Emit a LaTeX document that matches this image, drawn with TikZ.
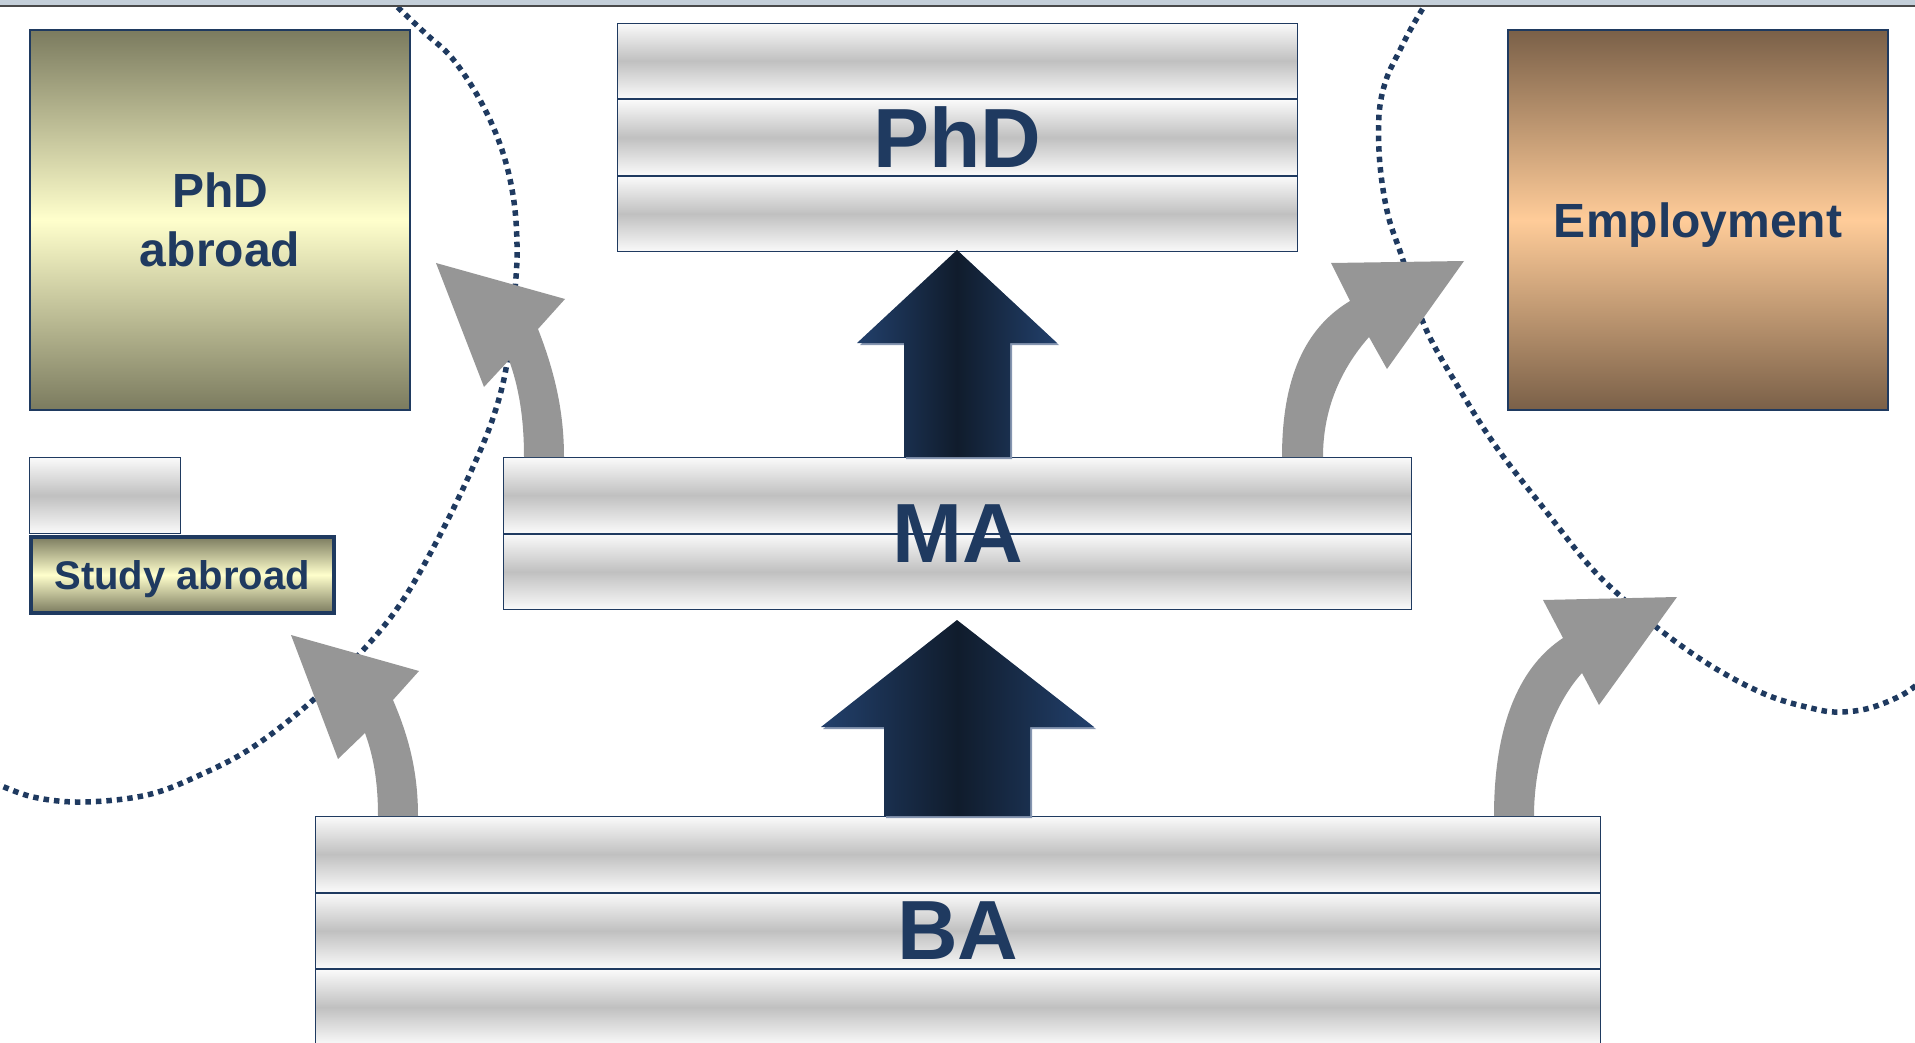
\documentclass[tikz,border=0pt]{standalone}
\usepackage{fontspec}
\setmainfont{Liberation Sans}
\usepackage{xcolor}
\usetikzlibrary{positioning}

\definecolor{textblue}{HTML}{1F3A60}
\definecolor{stripewhite}{HTML}{FAFAFA}
\definecolor{stripegray}{HTML}{C0C0C0}
\definecolor{olivedark}{HTML}{7B7B5F}
\definecolor{olivelight}{HTML}{FFFFCC}
\definecolor{browndark}{HTML}{7A6048}
\definecolor{brownlight}{HTML}{FFCC99}
\definecolor{arrowedge}{HTML}{22406C}
\definecolor{arrowcore}{HTML}{101C2C}
\definecolor{arrowshade}{HTML}{8595B0}
\definecolor{curvegray}{HTML}{969696}
\definecolor{topband}{HTML}{C4CFD9}
\definecolor{topline}{HTML}{4A4A4A}

\begin{document}
\begin{tikzpicture}[x=1pt, y=-1pt,
    stripebox/.style={draw=textblue, line width=1pt, top color=stripewhite,
        bottom color=stripewhite, middle color=stripegray,
        minimum height=75.5pt, inner sep=0pt, anchor=north west},
    bigtext/.style={text=textblue, font=\fontsize{84}{90}\selectfont\bfseries},
    olivebox/.style={draw=textblue, top color=olivedark, bottom color=olivedark,
        middle color=olivelight, inner sep=0pt, anchor=north west,
        text=textblue, align=center},
    dotline/.style={draw=textblue, line width=5.5pt, dash pattern=on 5.5pt off 5pt},
    grayarrow/.style={fill=curvegray},
    darkarrow/.style={left color=arrowedge, right color=arrowedge, middle color=arrowcore}]

  \useasboundingbox (0,0) rectangle (1915,1043);

  % PhD, three stripes
  \node[stripebox, minimum width=680pt] (phd1) at (617,22.7) {};
  \node[stripebox, minimum width=680pt, below=0pt of phd1] (phd2) {};
  \node[stripebox, minimum width=680pt, below=0pt of phd2] (phd3) {};
  \node[bigtext] (phd) at (phd2) {PhD};

  % MA, two stripes
  \node[stripebox, minimum width=908pt] (ma1) at (503,457) {};
  \node[stripebox, minimum width=908pt, below=0pt of ma1] (ma2) {};
  \node[bigtext] (ma) at (ma1.south) {MA};

  % BA, three stripes
  \node[stripebox, minimum width=1285pt] (ba1) at (315,816) {};
  \node[stripebox, minimum width=1285pt, below=0pt of ba1] (ba2) {};
  \node[stripebox, minimum width=1285pt, below=0pt of ba2] (ba3) {};
  \node[bigtext] (ba) at (ba2) {BA};

  % side boxes
  \node[olivebox, line width=2pt, minimum width=380pt, minimum height=380pt,
        font=\fontsize{48}{59}\selectfont\bfseries] (abroadphd) at (29,29) {PhD\\abroad};
  \node[olivebox, line width=2pt, minimum width=380pt, minimum height=380pt,
        top color=browndark, bottom color=browndark, middle color=brownlight,
        text depth=0pt, font=\fontsize{48}{59}\selectfont\bfseries] (job) at (1507,29) {Employment};
  \node[stripebox, minimum width=151pt, minimum height=76pt] (blank) at (29,457) {};
  \node[olivebox, line width=3.5pt, minimum width=303pt, minimum height=76pt,
        text depth=0pt, font=\fontsize{40}{48}\selectfont\bfseries] (study) at (29,535) {Study abroad};

  % dotted border, left
  \draw[dotline] plot[smooth, tension=0.6] coordinates {(390,0) (425,33) (452,58) (480,100)
    (501,147) (513,195) (517,244) (515,290) (507,363) (494,415) (473,467) (440,535)
    (403,600) (365,648) (312,701) (253,747) (200,775) (147,795) (83,802) (33,797) (-5,783)};

  % dotted border, right
  \draw[dotline] plot[smooth, tension=0.6] coordinates {(1428,0) (1413,25) (1400,50)
    (1386,80) (1379,115) (1380,165) (1388,215) (1402,257) (1425,327) (1460,390)
    (1497,448) (1545,510) (1587,563) (1618,594) (1660,630) (1713,667) (1767,695)
    (1815,709) (1840,712) (1870,708) (1902,695) (1920,682)};

  % upper arrow, MA to PhD
  \fill[arrowshade] (906,459) -- (906,345) -- (860,345) -- (959,252) -- (1059,345)
    -- (1012,345) -- (1012,459) -- cycle;
  \shade[darkarrow] (904,457) -- (904,343) -- (857,343) -- (957,250) -- (1057,343)
    -- (1010,343) -- (1010,457) -- cycle;

  % lower arrow, BA to MA
  \fill[arrowshade] (886,818) -- (886,729) -- (823,729) -- (959,622) -- (1096,729)
    -- (1032,729) -- (1032,818) -- cycle;
  \shade[darkarrow] (884,816) -- (884,727) -- (821,727) -- (957,620) -- (1094,727)
    -- (1030,727) -- (1030,816) -- cycle;

  % curved arrow, BA to study abroad
  \fill[grayarrow] (378,816) .. controls (378,780) and (373,755) .. (365,733) -- (338,759)
    -- (291,635) -- (419,671) -- (393,700) .. controls (408,735) and (418,770) .. (418,816) -- cycle;

  % curved arrow, MA to PhD abroad
  \fill[grayarrow] (524,457) .. controls (524,415) and (518,385) .. (509,360) -- (484,387)
    -- (436,263) -- (565,299) -- (538,329) .. controls (554,370) and (564,410) .. (564,457) -- cycle;

  % curved arrow, MA to employment
  \fill[grayarrow] (1282,457) .. controls (1282,370) and (1310,325) .. (1350,301) -- (1331,263)
    -- (1464,261) -- (1387,369) -- (1369,337) .. controls (1340,370) and (1323,410) .. (1323,457) -- cycle;

  % curved arrow, BA to employment
  \fill[grayarrow] (1494,816) .. controls (1494,720) and (1522,665) .. (1563,638) -- (1543,600)
    -- (1677,597) -- (1599,705) -- (1582,673) .. controls (1553,705) and (1534,760) .. (1534,816) -- cycle;

  % top frame line
  \fill[topband] (0,0) rectangle (1915,4.7);
  \fill[topline] (0,4.7) rectangle (1915,7.3);

\end{tikzpicture}
\end{document}
